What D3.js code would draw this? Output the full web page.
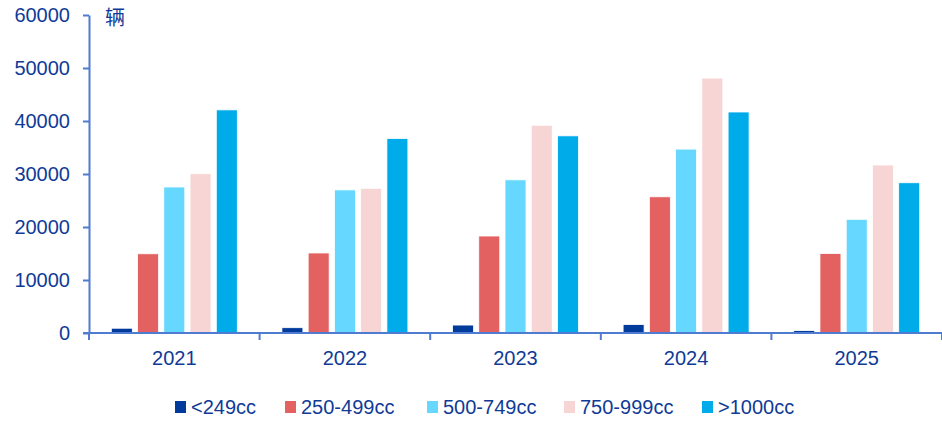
<!DOCTYPE html>
<html>
<head>
<meta charset="utf-8">
<style>
  body { margin: 0; background: #fff; font-family: "Liberation Sans", Arial, sans-serif; }
  .axis text { font-size: 20px; fill: #0f3b97; font-family: "Liberation Sans", Arial, sans-serif; }
  .axis path, .axis line { stroke: #4f7bd0; stroke-width: 2px; }
  .legend text { font-size: 20px; fill: #0f3b97; }
  .unit { font-size: 20px; fill: #0f3b97; font-family: "Noto Sans CJK SC", sans-serif; }
</style>
</head>
<body>
<script src="https://d3js.org/d3.v7.min.js"></script>
<script>
var years = ["2021", "2022", "2023", "2024", "2025"];
var series = ["<249cc", "250-499cc", "500-749cc", "750-999cc", ">1000cc"];
var colors = ["#003a9b", "#e46161", "#66d8ff", "#f8d5d5", "#00abea"];
var v249 = [900, 1000, 1500, 1600, 450];
var v250 = [14950, 15100, 18300, 25700, 15000];
var v500 = [27550, 27000, 28900, 34700, 21450];
var v750 = [30050, 27300, 39200, 48100, 31700];
var v1000 = [42100, 36700, 37200, 41700, 28350];
var yTicks = [0, 10000, 20000, 30000, 40000, 50000, 60000];

var values = [v249, v250, v500, v750, v1000];

var W = 942, H = 421;
var margin = {top: 15, right: 0, bottom: 88, left: 89};
var width = W - margin.left - margin.right,
    height = H - margin.top - margin.bottom;

var svg = d3.select("body").append("svg")
    .attr("width", W).attr("height", H);
var g = svg.append("g")
    .attr("transform", "translate(" + margin.left + "," + margin.top + ")");

var x0 = d3.scaleBand().domain(years).range([0, width]).padding(0);
var x1 = d3.scaleBand().domain(series).range([0, x0.bandwidth()])
    .paddingInner(0.2).paddingOuter(0.85);
var y = d3.scaleLinear().domain([0, 60000]).range([height, 0]);

// bars
var groups = g.selectAll(".grp").data(years).enter().append("g")
    .attr("class", "grp")
    .attr("transform", function(d) { return "translate(" + x0(d) + ",0)"; });
groups.selectAll("rect")
    .data(function(d, i) { return series.map(function(s, j) { return {s: s, v: values[j][i], c: colors[j]}; }); })
  .enter().append("rect")
    .attr("x", function(d) { return x1(d.s); })
    .attr("width", x1.bandwidth())
    .attr("y", function(d) { return y(d.v); })
    .attr("height", function(d) { return height - y(d.v); })
    .attr("fill", function(d) { return d.c; })
    .attr("stroke", "#fff")
    .attr("stroke-width", 0.8);

// y axis
var yAxis = d3.axisLeft(y).tickValues(yTicks).tickFormat(d3.format("d"))
    .tickSize(6).tickPadding(13).tickSizeOuter(0);
g.append("g").attr("class", "axis y").call(yAxis);

// x axis with ticks at band boundaries
var xAxisG = g.append("g").attr("class", "axis x")
    .attr("transform", "translate(0," + height + ")");
xAxisG.append("line").attr("x1", -6).attr("x2", width).attr("y1", 0).attr("y2", 0);
xAxisG.selectAll(".bt").data(years.concat(["end"])).enter().append("line")
    .attr("class", "bt")
    .attr("x1", function(d, i) { return i * x0.bandwidth(); })
    .attr("x2", function(d, i) { return i * x0.bandwidth(); })
    .attr("y1", 0).attr("y2", 7);
xAxisG.selectAll(".lbl").data(years).enter().append("text")
    .attr("x", function(d) { return x0(d) + x0.bandwidth() / 2; })
    .attr("y", 32)
    .attr("text-anchor", "middle")
    .text(function(d) { return d; });

// unit
svg.append("text").attr("class", "unit").attr("x", 105).attr("y", 25).text("辆");

// legend
var legX = [175, 285, 427, 564, 702];
var legend = svg.append("g").attr("class", "legend");
var li = legend.selectAll("g").data(series).enter().append("g")
    .attr("transform", function(d, i) { return "translate(" + legX[i] + ",401)"; });
li.append("rect").attr("width", 11).attr("height", 12)
    .attr("fill", function(d, i) { return colors[i]; });
li.append("text").attr("x", 16).attr("y", 6).attr("dy", "0.35em")
    .text(function(d) { return d; });
</script>
</body>
</html>
